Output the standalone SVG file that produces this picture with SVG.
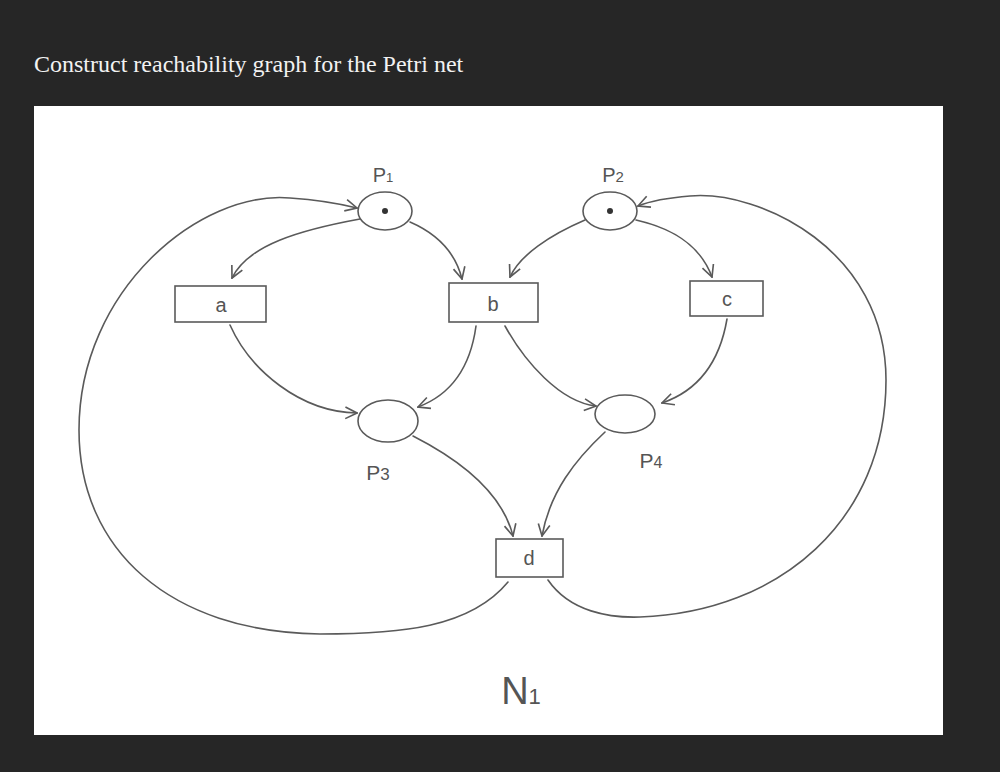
<svg xmlns="http://www.w3.org/2000/svg" width="1000" height="772" viewBox="0 0 1000 772">
<style>
.ln{fill:none;stroke:#5a5a5a;stroke-width:1.6;stroke-linecap:round}
.place{fill:#fff;stroke:#5a5a5a;stroke-width:1.6}
.trans{fill:#fff;stroke:#5a5a5a;stroke-width:1.6}
.lbl{font-family:"Liberation Sans",Arial,sans-serif;fill:#555;text-anchor:middle}
.tok{fill:#333}
</style>
<defs>
<marker id="arr" viewBox="0 0 12 12" refX="11" refY="6" markerWidth="14" markerHeight="14" markerUnits="userSpaceOnUse" orient="auto">
<path d="M1,1 L11,6 L1,11" fill="none" stroke="#5a5a5a" stroke-width="1.4"/>
</marker>
</defs>
<rect x="0" y="0" width="1000" height="772" fill="#262626"/>
<text x="34" y="72" font-family="'Liberation Serif','Times New Roman',serif" font-size="24" fill="#f2f2f2">Construct reachability graph for the Petri net</text>
<rect x="34" y="106" width="909" height="629" fill="#ffffff"/>

<g id="connectors">
<path class="ln" marker-end="url(#arr)" d="M360,219 C300,230 248,245 232,278"/>
<path class="ln" marker-end="url(#arr)" d="M410,222 C440,235 456,255 462,279"/>
<path class="ln" marker-end="url(#arr)" d="M585,220 C550,235 520,255 510,277"/>
<path class="ln" marker-end="url(#arr)" d="M636,220 C680,230 702,250 712,277"/>
<path class="ln" marker-end="url(#arr)" d="M230,325 C250,370 300,412 357,413"/>
<path class="ln" marker-end="url(#arr)" d="M476,326 C470,370 450,395 418,407"/>
<path class="ln" marker-end="url(#arr)" d="M505,326 C525,362 560,402 596,406"/>
<path class="ln" marker-end="url(#arr)" d="M727,319 C720,360 700,390 662,403"/>
<path class="ln" marker-end="url(#arr)" d="M413,436 C460,460 502,492 513,536"/>
<path class="ln" marker-end="url(#arr)" d="M605,432 C575,460 550,492 542,536"/>
<path class="ln" marker-end="url(#arr)" d="M508,582 C470,628 400,634 320,634 C170,632 79,550 79,430 C79,290 200,190 290,198 C320,200 345,205 357,208"/>
<path class="ln" marker-end="url(#arr)" d="M548,580 C570,612 610,618 640,617 C780,612 886,520 886,380 C886,250 760,190 690,196 C665,198 648,202 638,206"/>
</g>

<g id="P1">
<ellipse class="place" cx="385" cy="211" rx="27" ry="19"/>
<circle class="tok" cx="385" cy="211" r="3"/>
<text class="lbl" x="383" y="182" font-size="20">P<tspan font-size="13">1</tspan></text>
</g>
<g id="P2">
<ellipse class="place" cx="610" cy="211" rx="27" ry="19"/>
<circle class="tok" cx="610" cy="211" r="3"/>
<text class="lbl" x="613" y="182" font-size="20">P<tspan font-size="15">2</tspan></text>
</g>
<g id="P3">
<ellipse class="place" cx="388" cy="421" rx="30" ry="21"/>
<text class="lbl" x="378" y="480" font-size="21">P<tspan font-size="17">3</tspan></text>
</g>
<g id="P4">
<ellipse class="place" cx="625" cy="414" rx="30" ry="19"/>
<text class="lbl" x="651" y="468" font-size="21">P<tspan font-size="16">4</tspan></text>
</g>
<g id="a">
<rect class="trans" x="175" y="286" width="91" height="36"/>
<text class="lbl" x="221" y="312" font-size="20">a</text>
</g>
<g id="b">
<rect class="trans" x="449" y="283" width="89" height="39"/>
<text class="lbl" x="493" y="311" font-size="20">b</text>
</g>
<g id="c">
<rect class="trans" x="690" y="281" width="73" height="35"/>
<text class="lbl" x="727" y="306" font-size="20">c</text>
</g>
<g id="d">
<rect class="trans" x="496" y="539" width="67" height="38"/>
<text class="lbl" x="529" y="565" font-size="20">d</text>
</g>
<text class="lbl" x="521" y="704" font-size="38">N<tspan font-size="22">1</tspan></text>
</svg>
